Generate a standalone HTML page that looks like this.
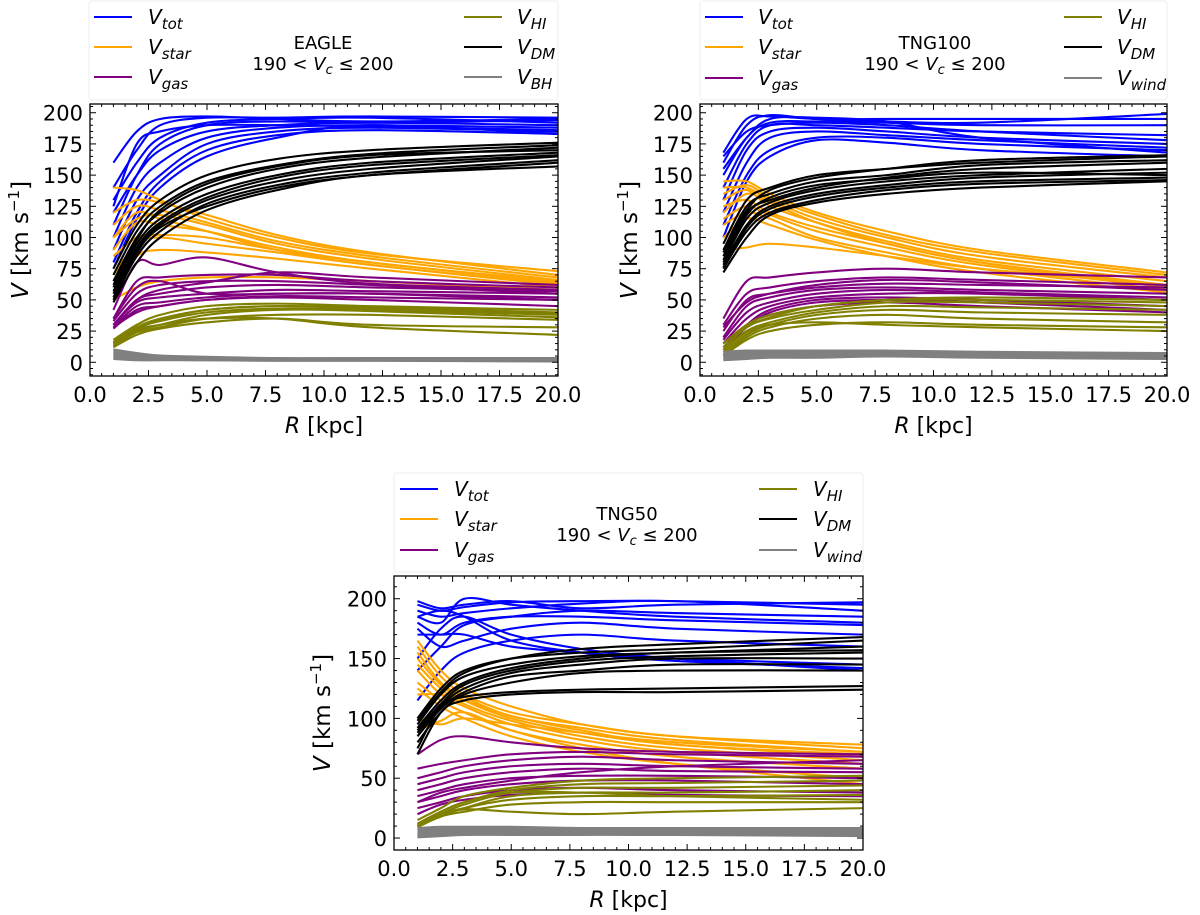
<!DOCTYPE html>
<html><head><meta charset="utf-8"><style>
html,body{margin:0;padding:0;background:#fff}
svg{display:block;font-family:"DejaVu Sans","Liberation Sans",sans-serif}
</style></head><body>
<svg id="fig" width="1200" height="915" viewBox="0 0 1200 915" xmlns="http://www.w3.org/2000/svg"></svg>
<script>
const radii = [1,2,3,5,8,12,20];
const xTicks = [0,2.5,5,7.5,10,12.5,15,17.5,20];
const xTickLabels = ["0.0","2.5","5.0","7.5","10.0","12.5","15.0","17.5","20.0"];
const yTicksTop = [0,25,50,75,100,125,150,175,200];
const yTicksBottom = [0,50,100,150,200];

const eagleTot = [[160,185,195,197,195,193,195],[140,170,190,196,196,197,196],[130,160,180,192,195,196,192],[120,150,170,185,190,192,190],[100,140,160,180,188,190,188],[90,130,150,175,185,188,185],[80,120,145,170,182,186,183],[75,115,140,165,180,190,183],[125,175,185,190,190,189,186],[110,150,175,190,193,192,194]];
const eagleDM = [[75,110,130,150,163,170,176],[70,105,125,145,158,167,174],[65,100,120,140,155,164,172],[60,95,115,135,150,160,168],[55,90,110,130,145,155,165],[50,85,105,127,142,152,162],[48,80,100,122,138,150,157],[62,98,122,143,157,166,170],[57,92,112,132,148,158,166],[52,88,108,125,140,150,160]];
const eagleStar = [[140,138,130,115,100,87,73],[120,130,128,118,102,88,70],[110,125,122,112,97,85,68],[100,115,118,110,95,83,66],[90,112,110,105,92,80,65],[85,100,102,100,90,80,64],[70,95,100,95,88,78,62],[100,120,115,105,90,78,63],[60,85,90,88,83,75,60],[50,60,65,68,68,65,58]];
const eagleGas = [[42,80,78,84,72,63,58],[35,65,68,70,70,65,60],[33,55,62,65,65,62,55],[30,50,55,60,62,60,57],[30,48,52,55,58,57,55],[28,45,48,52,55,55,52],[27,42,45,50,53,52,50],[35,60,65,55,55,55,50],[28,40,45,50,52,50,45],[30,50,58,64,72,68,62]];
const eagleHI = [[18,30,38,45,47,45,42],[16,28,35,42,45,44,40],[15,27,33,40,43,42,38],[14,25,30,38,42,41,36],[13,24,28,35,38,38,34],[12,22,27,32,35,30,28],[15,26,30,35,35,28,22],[16,28,34,42,45,43,39]];
const eagleBH = [[10,7,5,4,3,3,3],[8,5,4,3,2.5,2,2],[6,4,3,3,2,2,2],[4,3,2.5,2,2,2,1.5],[3,2,2,2,1.5,1.5,1]];

const tng100Tot = [[168,195,197,195,193,192,199],[160,190,198,195,195,195,195],[150,180,192,193,192,190,190],[140,175,190,190,188,185,182],[130,170,185,188,185,180,175],[120,160,180,185,182,178,172],[110,150,170,180,180,175,170],[100,145,165,178,176,170,165],[165,185,190,192,190,185,178],[155,180,195,196,193,180,168]];
const tng100DM = [[95,130,140,150,155,160,165],[90,125,135,145,150,158,162],[85,120,130,140,148,155,160],[80,115,128,138,145,150,155],[78,110,125,135,142,148,152],[75,105,120,130,138,143,146],[72,100,118,128,135,140,145],[88,122,138,148,155,162,166],[82,118,132,142,147,152,150],[76,108,123,133,140,145,148]];
const tng100Star = [[145,145,135,120,105,90,72],[140,140,130,115,100,85,68],[130,138,125,112,97,82,65],[125,130,120,108,95,80,62],[115,125,118,105,92,78,60],[110,120,115,100,88,75,58],[100,115,110,98,85,72,56],[120,135,128,112,95,80,60],[90,92,95,92,85,75,62],[135,142,132,118,102,88,70]];
const tng100Gas = [[30,55,60,65,68,66,62],[25,50,55,60,63,62,60],[20,45,52,58,60,58,55],[18,40,48,55,58,56,52],[15,35,45,52,55,55,50],[12,30,42,50,52,50,45],[10,28,40,48,50,48,42],[35,65,68,72,75,72,68],[15,30,38,45,48,45,40],[28,48,55,62,66,64,58]];
const tng100HI = [[15,30,38,45,50,50,48],[12,28,35,42,48,48,45],[10,25,32,40,45,44,42],[8,22,30,38,42,40,38],[6,20,28,35,38,35,32],[5,18,25,30,32,30,28],[10,24,30,32,30,28,25],[12,28,36,45,50,52,50]];
const tng100Wind = [[8,9,9,9,9,8,7],[6,7,8,8,8,7,6],[5,6,7,7,7,6,5],[3,4,5,6,6,5,4],[2,3,4,4,5,4,3]];

const tng50Tot = [[198,192,195,198,192,195,197],[195,190,193,197,198,198,195],[190,185,188,192,196,198,190],[185,180,200,195,190,185,180],[180,170,180,185,185,182,178],[175,160,165,175,180,175,170],[170,170,170,160,155,150,145],[150,175,185,170,158,150,140],[140,160,178,185,190,188,185],[115,140,155,165,170,165,160],[185,190,185,165,155,148,142]];
const tng50DM = [[100,125,140,150,155,158,165],[95,120,135,145,152,155,160],[92,115,130,142,150,155,157],[90,112,128,140,148,152,155],[88,110,125,138,145,150,150],[85,108,122,135,140,145,145],[80,105,120,130,138,140,140],[75,110,118,122,124,125,127],[70,105,115,120,122,122,124],[98,122,138,150,158,162,168]];
const tng50Star = [[165,140,125,110,95,85,75],[160,135,120,105,95,85,78],[155,130,118,102,92,82,72],[150,128,115,100,88,78,68],[145,125,112,98,85,75,65],[140,120,110,95,82,72,62],[130,115,105,90,78,68,58],[125,110,100,85,72,62,50],[120,120,115,102,90,78,70],[100,95,100,95,88,80,72],[90,98,105,90,75,62,45]];
const tng50Gas = [[70,82,85,80,75,72,70],[58,62,65,70,72,70,68],[50,55,60,65,68,65,62],[45,50,55,60,62,60,58],[40,45,50,55,58,56,55],[35,40,45,50,52,52,50],[30,35,40,45,48,48,45],[25,30,35,40,42,40,38],[20,28,32,36,38,36,35],[30,38,42,48,55,60,65]];
const tng50HI = [[15,25,35,42,48,50,52],[12,22,30,40,45,46,48],[10,20,28,38,42,42,44],[10,18,25,35,38,38,40],[11,20,25,32,35,35,36],[9,18,22,28,30,30,30],[10,18,24,22,20,22,25],[12,22,30,38,38,35,32]];
const tng50Wind = [[8,9,9,9,8,8,8],[6,7,8,8,7,7,7],[4,5,6,6,6,6,6],[3,4,4,4,4,4,4],[1,2,3,3,3,3,2]];

const NS = "http://www.w3.org/2000/svg";
const fig = document.getElementById('fig');
function mk(tag, attrs, parent){ const e=document.createElementNS(NS,tag); for(const k in attrs) e.setAttribute(k,attrs[k]); (parent||fig).appendChild(e); return e; }

function smoothPath(pts){
  let d = "M"+pts[0][0].toFixed(2)+","+pts[0][1].toFixed(2);
  for(let i=0;i<pts.length-1;i++){
    const p0=pts[Math.max(0,i-1)], p1=pts[i], p2=pts[i+1], p3=pts[Math.min(pts.length-1,i+2)];
    const c1x=p1[0]+(p2[0]-p0[0])/6, c1y=p1[1]+(p2[1]-p0[1])/6;
    const c2x=p2[0]-(p3[0]-p1[0])/6, c2y=p2[1]-(p3[1]-p1[1])/6;
    d+=" C"+c1x.toFixed(2)+","+c1y.toFixed(2)+" "+c2x.toFixed(2)+","+c2y.toFixed(2)+" "+p2[0].toFixed(2)+","+p2[1].toFixed(2);
  }
  return d;
}

function panel(cfg){
  const g = mk('g',{});
  
  
  const L=cfg.x0, R=cfg.x1, T=cfg.y0, B=cfg.y1;
  const xs = v => L + (v-0)/(20-0)*(R-L);
  const ys = v => B - (v-cfg.ymin)/(cfg.ymax-cfg.ymin)*(B-T);
  const clipId = 'clip-'+cfg.id;
  const cp = mk('clipPath',{id:clipId},g); mk('rect',{x:L,y:T,width:R-L,height:B-T},cp);
  const lines = mk('g',{'clip-path':'url(#'+clipId+')'},g);
  
  
  for(const s of cfg.series){
    s.data.forEach((curve,ci)=>{
      const pts = curve.map((v,i)=>[xs(radii[i]), ys(v)]);
      const p = mk('path',{d:smoothPath(pts),fill:'none',stroke:s.color,'stroke-width':s.key==='grey'?3:2.1,'stroke-linejoin':'round'},lines);
      
      
    });
  }
  const fr = mk('rect',{x:L,y:T,width:R-L,height:B-T,fill:'none',stroke:'#000','stroke-width':1.3},g);
  
  
  const tk = mk('g',{stroke:'#000','stroke-width':1},g);
  for(let v=0; v<=20.001; v+=0.5){
    const major = Math.abs(v/2.5-Math.round(v/2.5))<1e-6;
    const len = major?6:3, x=xs(v);
    mk('line',{x1:x,y1:B,x2:x,y2:B-len},tk); mk('line',{x1:x,y1:T,x2:x,y2:T+len},tk);
  }
  const minorStep = cfg.yMinor;
  for(let v=Math.ceil(cfg.ymin/minorStep)*minorStep; v<=cfg.ymax; v+=minorStep){
    const major = cfg.yTicks.includes(v);
    const len = major?6:3, y=ys(v);
    mk('line',{x1:L,y1:y,x2:L+len,y2:y},tk); mk('line',{x1:R,y1:y,x2:R-len,y2:y},tk);
  }
  xTicks.forEach((v,i)=>{
    const t = mk('text',{x:xs(v),y:B+26,'font-size':21,'text-anchor':'middle',fill:'#000'},g);
    t.textContent = xTickLabels[i];
    
    
  });
  cfg.yTicks.forEach(v=>{
    const t = mk('text',{x:L-7,y:ys(v)+8,'font-size':21,'text-anchor':'end',fill:'#000'},g);
    t.textContent = String(v);
    
    
  });
  const xt = mk('text',{x:(L+R)/2,y:B+57,'font-size':22,'text-anchor':'middle',fill:'#000'},g);
  xt.innerHTML = '<tspan font-style="italic">R</tspan> [kpc]';
  
  
  const yc = (T+B)/2;
  const yt = mk('text',{x:cfg.ylabX,y:yc,'font-size':23,'text-anchor':'middle',fill:'#000',transform:'rotate(-90 '+cfg.ylabX+' '+yc+')'},g);
  yt.innerHTML = '<tspan font-style="italic">V</tspan> [km s<tspan dy="-9" font-size="15">−1</tspan><tspan dy="9">]</tspan>';
  
  
  const lg = cfg.legend;
  const lgG = mk('g',{},g);
  
  
  mk('rect',{x:lg.x0,y:lg.y0,width:lg.x1-lg.x0,height:lg.y1-lg.y0,rx:3,fill:'#fff',stroke:'#eeeeee','stroke-width':1},lgG);
  const entries = [
    {c:'#0000ff',s:'tot',col:0,row:0},{c:'#ffa500',s:'star',col:0,row:1},{c:'#800080',s:'gas',col:0,row:2},
    {c:'#808000',s:'HI',col:1,row:0},{c:'#000000',s:'DM',col:1,row:1},{c:'#808080',s:cfg.lastSub,col:1,row:2}];
  entries.forEach(e=>{
    const y = lg.rows[e.row];
    const lx = e.col===0?lg.lineL:lg.lineR;
    const tx = e.col===0?lg.textL:lg.textR;
    const eg = mk('g',{},lgG);
    
    
    mk('line',{x1:lx,y1:y,x2:lx+38,y2:y,stroke:e.c,'stroke-width':2},eg);
    const t = mk('text',{x:tx,y:y+7,'font-size':20,'font-style':'italic',fill:'#000'},eg);
    t.innerHTML = 'V<tspan dy="5" font-size="15">'+e.s+'</tspan>';
  });
  const t1 = mk('text',{x:lg.cx,y:lg.cy,'font-size':18,'text-anchor':'middle',fill:'#000'},lgG);
  t1.textContent = cfg.title;
  
  
  const t2 = mk('text',{x:lg.cx,y:lg.cy+21,'font-size':18,'text-anchor':'middle',fill:'#000'},lgG);
  t2.innerHTML = '190 &lt; <tspan font-style="italic">V</tspan><tspan dy="4" font-size="13" font-style="italic">c</tspan><tspan dy="-4"> ≤ 200</tspan>';
  
  
}

function seriesList(tot,star,gas,hi,dm,last){
  return [{key:'tot',color:'#0000ff',data:tot},{key:'star',color:'#ffa500',data:star},{key:'gas',color:'#800080',data:gas},
          {key:'hi',color:'#808000',data:hi},{key:'dm',color:'#000000',data:dm},{key:'grey',color:'#808080',data:last}];
}

panel({id:'eagle',title:'EAGLE',lastSub:'BH',x0:90,x1:558,y0:104,y1:376,ymin:-11,ymax:207,yTicks:yTicksTop,yMinor:5,ylabX:28,
  series:seriesList(eagleTot,eagleStar,eagleGas,eagleHI,eagleDM,eagleBH),
  legend:{x0:89,x1:558,y0:1,y1:100,rows:[17,47,77],lineL:94,textL:148,lineR:464,textR:517,cx:323,cy:49}});
panel({id:'tng100',title:'TNG100',lastSub:'wind',x0:700,x1:1167,y0:104,y1:376,ymin:-11,ymax:207,yTicks:yTicksTop,yMinor:5,ylabX:637,
  series:seriesList(tng100Tot,tng100Star,tng100Gas,tng100HI,tng100DM,tng100Wind),
  legend:{x0:700,x1:1167,y0:1,y1:100,rows:[17,47,78],lineL:705,textL:758,lineR:1064,textR:1117,cx:935,cy:49}});
panel({id:'tng50',title:'TNG50',lastSub:'wind',x0:394,x1:863,y0:576,y1:850,ymin:-10,ymax:219,yTicks:yTicksBottom,yMinor:10,ylabX:330,
  series:seriesList(tng50Tot,tng50Star,tng50Gas,tng50HI,tng50DM,tng50Wind),
  legend:{x0:394,x1:863,y0:473,y1:572,rows:[489,519,550],lineL:400,textL:454,lineR:759,textR:813,cx:627,cy:520}});
</script>
</body></html>
